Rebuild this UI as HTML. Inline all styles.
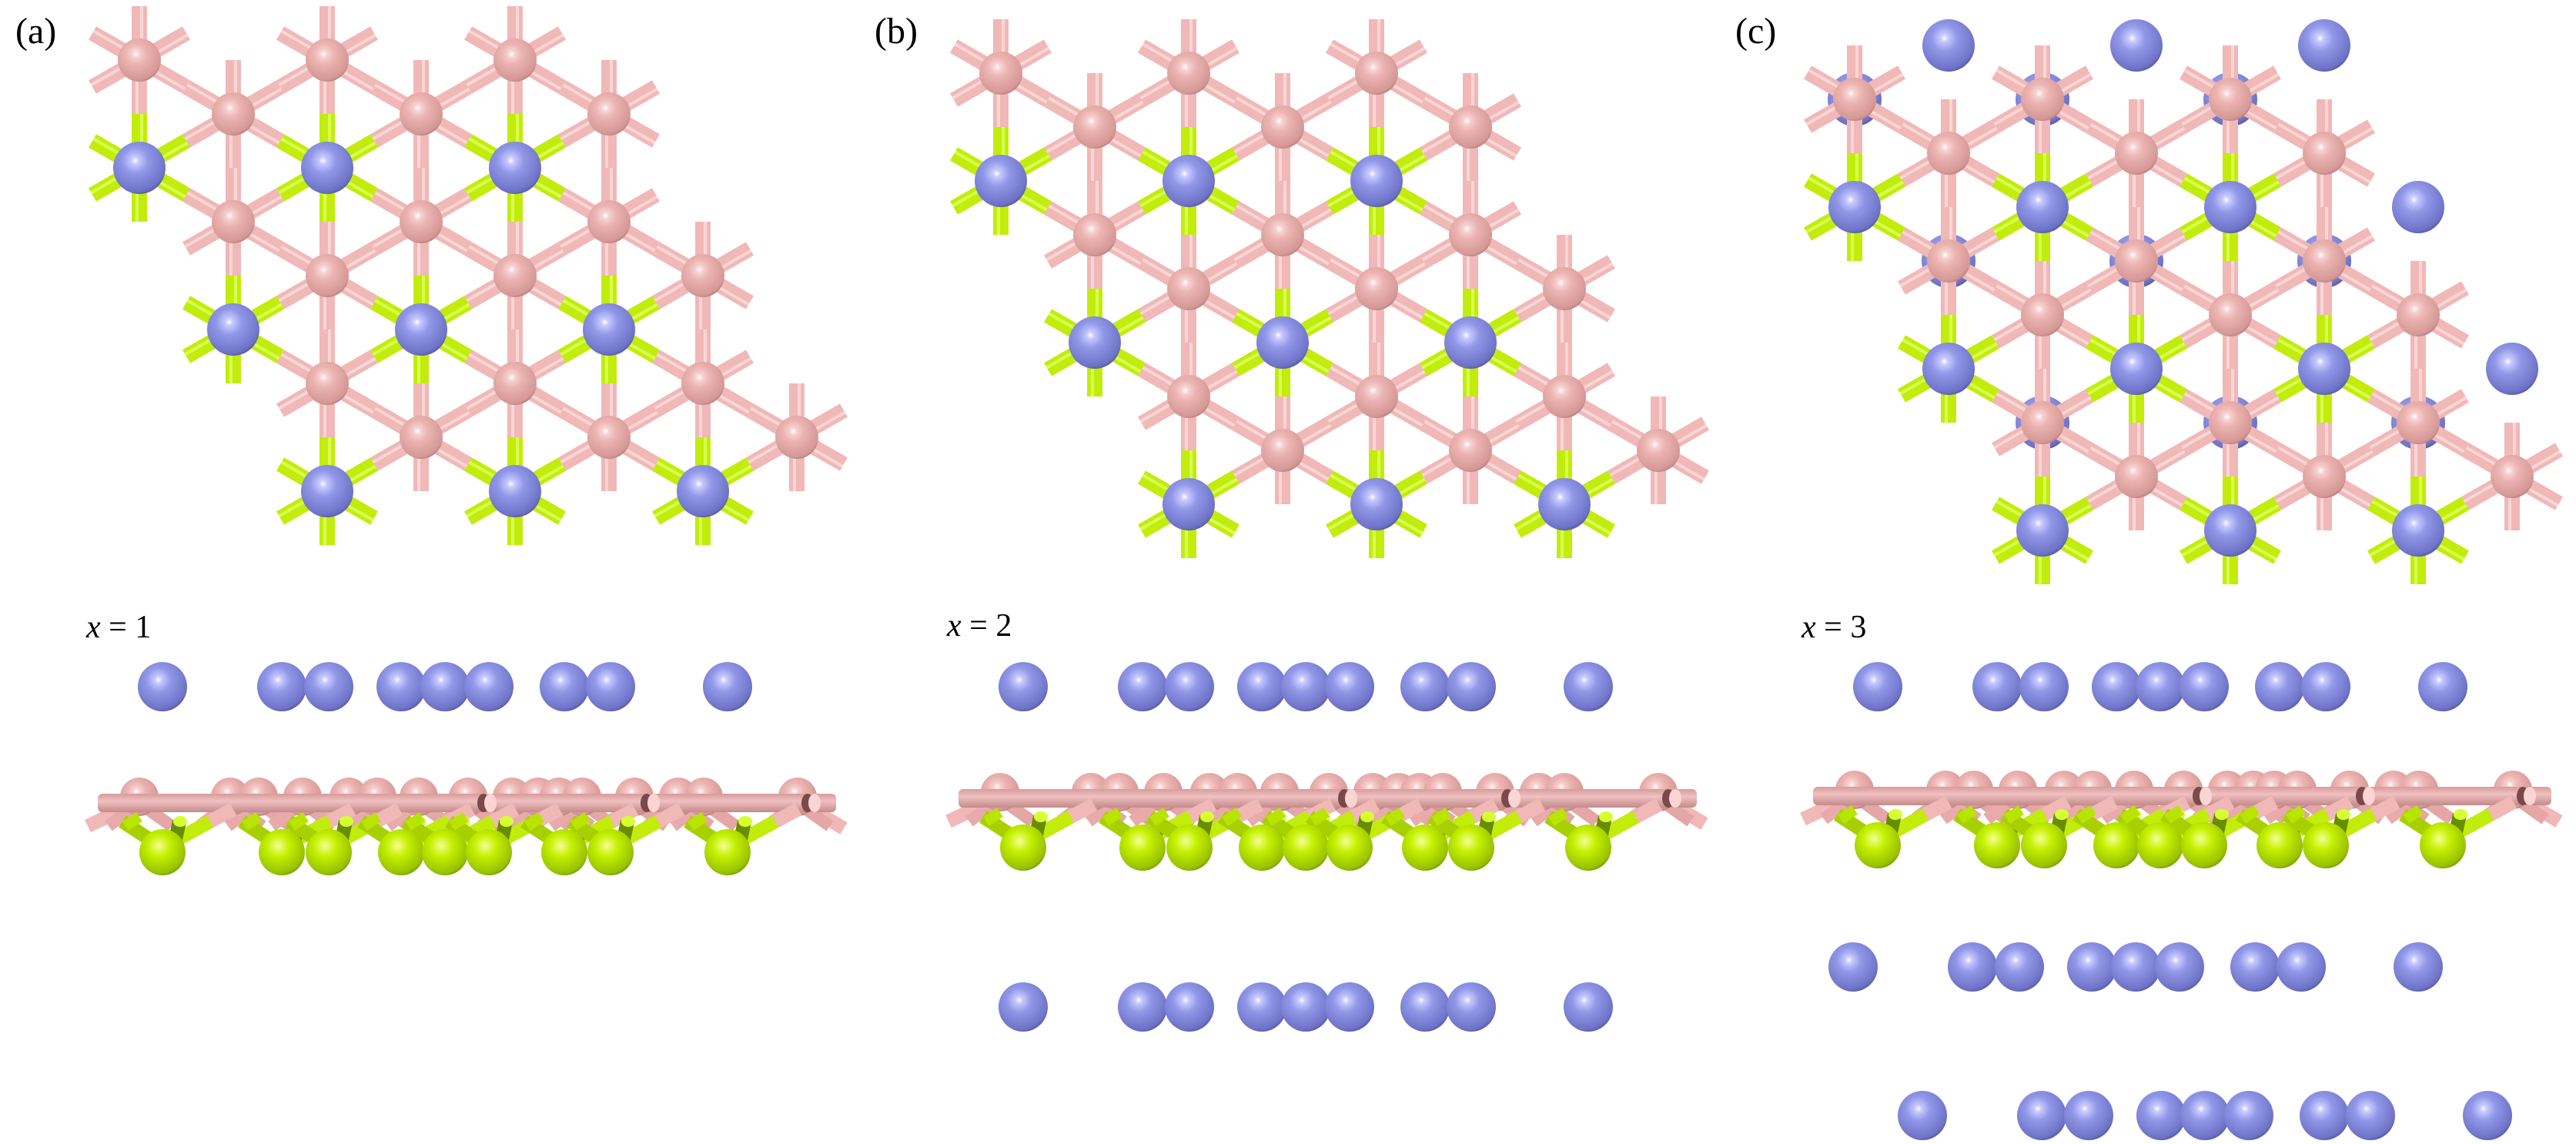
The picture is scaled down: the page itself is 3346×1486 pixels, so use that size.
<!DOCTYPE html>
<html><head><meta charset="utf-8"><style>
html,body{margin:0;padding:0;background:#fff;}
svg{display:block;}
</style></head><body>
<svg id="s" xmlns="http://www.w3.org/2000/svg" width="3346" height="1486" viewBox="0 0 3346 1486">
<defs>
<radialGradient id="gp" cx="0.42" cy="0.36" r="0.7">
<stop offset="0" stop-color="#ffffff"/><stop offset="0.12" stop-color="#f6d2d0"/><stop offset="0.35" stop-color="#ebb3b1"/><stop offset="0.85" stop-color="#d49896"/><stop offset="1" stop-color="#a87472"/></radialGradient>
<radialGradient id="gb" cx="0.42" cy="0.36" r="0.7">
<stop offset="0" stop-color="#ffffff"/><stop offset="0.1" stop-color="#c6caff"/><stop offset="0.35" stop-color="#9298e8"/><stop offset="0.85" stop-color="#6d72c6"/><stop offset="1" stop-color="#4a4e92"/></radialGradient>
<radialGradient id="gg" cx="0.42" cy="0.36" r="0.7">
<stop offset="0" stop-color="#f4ff90"/><stop offset="0.35" stop-color="#c4f000"/><stop offset="0.85" stop-color="#98c000"/><stop offset="1" stop-color="#6a8a00"/></radialGradient>
<linearGradient id="bar" x1="0" y1="0" x2="0" y2="1">
<stop offset="0" stop-color="#d79c9c"/><stop offset="0.4" stop-color="#f0c0c0"/><stop offset="1" stop-color="#c48a8a"/></linearGradient>
</defs>
<g font-family="Liberation Serif, serif" fill="#000">
<text x="20" y="56" font-size="48">(a)</text>
<text x="1136" y="56" font-size="48">(b)</text>
<text x="2254" y="56" font-size="48">(c)</text>
<text x="112" y="828" font-size="42"><tspan font-style="italic">x</tspan> = 1</text>
<text x="1230" y="826" font-size="42"><tspan font-style="italic">x</tspan> = 2</text>
<text x="2340" y="828" font-size="42"><tspan font-style="italic">x</tspan> = 3</text>
</g>
<g id="content"></g>
</svg>
<script>
(function(){
var NS="http://www.w3.org/2000/svg";
var C=document.getElementById("content");
function el(tag,attrs){var e=document.createElementNS(NS,tag);for(var k in attrs)e.setAttribute(k,attrs[k]);C.appendChild(e);return e;}
function ball(x,y,r,g){el("circle",{cx:x,cy:y,r:r,fill:"url(#"+g+")"});}
function line(x1,y1,x2,y2,w,c){el("line",{x1:x1,y1:y1,x2:x2,y2:y2,stroke:c,"stroke-width":w,"stroke-linecap":"butt"});}
var PINK="#f0b8b7",PINKH="#f9d6d5",GREEN="#c2ec0c",GREENH="#d8ff50";
var offs=[0,122,0,122,244,122,244,366,244];
var dirs=[[0,-70],[0,70],[61,-35],[61,35],[-61,-35],[-61,35]];
function topView(x0,y0,extra){
  var atoms=[];
  for(var r=0;r<9;r++)for(var i=0;i<3;i++)atoms.push([x0+offs[r]+244*i,y0+70*r,(r%3==2)]);
  if(extra){
    for(var r2=0;r2<9;r2++){if(r2%3==0){for(var j=0;j<3;j++)ball(x0+offs[r2]+244*j,y0+70*r2,35,"gb");}}
  }
  atoms.forEach(function(a){
    dirs.forEach(function(d){
      var c=a[2]?GREEN:PINK;
      line(a[0],a[1],a[0]+d[0],a[1]+d[1],20,c);
    });
  });
  atoms.forEach(function(a){
    dirs.forEach(function(d){
      var h=a[2]?GREENH:PINKH;
      var nx=-d[1]/70*3, ny=d[0]/70*3;
      line(a[0]+nx,a[1]+ny,a[0]+d[0]+nx,a[1]+d[1]+ny,4,h);
    });
  });
  atoms.forEach(function(a){ if(a[2])ball(a[0],a[1],34,"gb"); else ball(a[0],a[1],28,"gp"); });
  if(extra){
    for(var k=0;k<3;k++)ball(x0+122+244*k,y0-70,34,"gb");
    ball(x0+732,y0+140,34,"gb");
    ball(x0+854,y0+350,34,"gb");
  }
}
topView(181,78,false);
topView(1300,95,false);
topView(2409,129,true);

var BX=[211,366,427,521,578,635,733,793,945];
var PX=[181,299,336,393,453,490,544,608,665,699,726,756,824,881,914,1036];
function blueRow(dx,y){BX.forEach(function(x){ball(x+dx,y,32,"gb");});}
function layer(dx,yb){
  line(dx+114,yb+30,dx+160,yb+8,18,PINK);
  line(dx+1096,yb+33,dx+1050,yb+6,18,PINK);
  PX.forEach(function(x){
    line(dx+x,yb,dx+x-40,yb+30,16,"#e8aaaa");
    line(dx+x,yb,dx+x+42,yb+30,16,"#e4a6a6");
  });
  PX.forEach(function(x){ball(dx+x,yb-8,25,"gp");});
  el("rect",{x:dx+127,y:yb-12,width:959,height:24,rx:6,fill:"url(#bar)"});
  [628,840,1049].forEach(function(x){
    el("ellipse",{cx:dx+x,cy:yb,rx:8,ry:12,fill:"#7a4a4a"});
    el("ellipse",{cx:dx+x+9,cy:yb,rx:8,ry:12,fill:"#fbd4d4"});
  });
  BX.forEach(function(x){
    var X=dx+x;
    line(X,yb+58,X-52,yb+24,18,"#a8d000");
    line(X,yb+58,X+62,yb+24,18,GREEN);
    line(X+62,yb+24,X+92,yb+8,18,PINK);
    line(X+16,yb+52,X+22,yb+24,18,"#6a8c00");
    el("ellipse",{cx:X+23,cy:yb+24,rx:9,ry:7,fill:"#d6ff30"});
    line(X-30,yb+18,X-48,yb+30,14,"#b8e400");
  });
  BX.forEach(function(x){ball(dx+x,yb+64,30,"gg");});
}
blueRow(0,892);
layer(0,1043);
blueRow(1118,892);
layer(1118,1037);
blueRow(1118,1308);
blueRow(2228,892);
layer(2228,1034);
blueRow(2196,1256);
blueRow(2286,1449);
})();
</script>
</body></html>
